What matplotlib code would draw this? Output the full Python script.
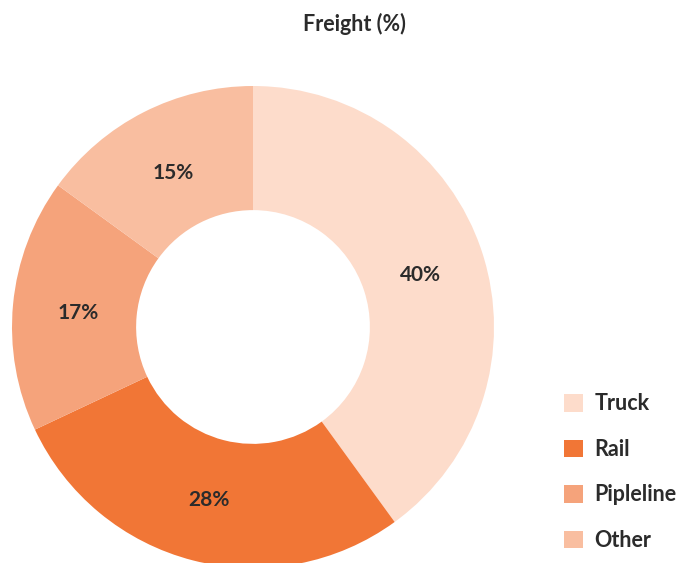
import matplotlib

matplotlib.use("Agg")
import matplotlib.pyplot as plt
import numpy as np
from matplotlib.patches import Patch

plt.rcParams["font.family"] = ["Lato", "DejaVu Sans"]

modes = ["Truck", "Rail", "Pipleline", "Other"]
shares = [40, 28, 17, 15]
colors = ["#FDDCCB", "#F17636", "#F5A37B", "#F9BEA0"]

W, H = 689, 563
fig = plt.figure(figsize=(W / 100, H / 100), dpi=100)

# pie centre ~(253, 327) px, outer radius ~241 px
cx, cy, r = 253, 327, 241
ax = fig.add_axes([(cx - r) / W, 1 - (cy + r) / H, 2 * r / W, 2 * r / H])

wedges, texts = ax.pie(
    shares,
    colors=colors,
    startangle=90,
    counterclock=False,
    radius=1.0,
    wedgeprops=dict(width=0.515, linewidth=0),
)
ax.set_xlim(-1, 1)
ax.set_ylim(-1, 1)
ax.set_aspect("equal")
ax.axis("off")

for w, v in zip(wedges, shares):
    ang = np.deg2rad((w.theta1 + w.theta2) / 2)
    ax.text(0.73 * np.cos(ang), 0.73 * np.sin(ang) - 0.01, f"{v}%",
            ha="center", va="center", fontsize=15, fontweight="bold",
            color="#2b2b2b")

fig.text(354 / W, 1 - 24 / H, "Freight (%)", ha="center", va="center",
         fontsize=15.5, fontweight="bold", color="#2b2b2b")

handles = [Patch(facecolor=c, edgecolor="none") for c in colors]
leg = fig.legend(
    handles, modes,
    loc="upper left",
    bbox_to_anchor=(545 / W, 1 - 374 / H),
    frameon=False,
    handlelength=0.85,
    handleheight=0.85,
    handletextpad=0.55,
    labelspacing=1.14,
    prop=dict(size=15.5, weight="bold"),
)
for t in leg.get_texts():
    t.set_color("#2b2b2b")

fig.savefig("out.png", dpi=100)
